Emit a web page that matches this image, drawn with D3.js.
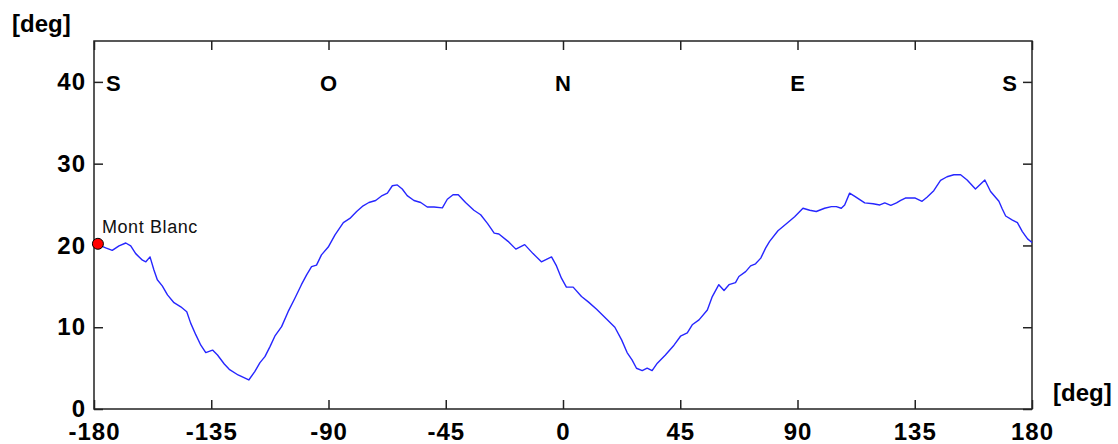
<!DOCTYPE html>
<html>
<head>
<meta charset="utf-8">
<script src="https://cdn.jsdelivr.net/npm/d3@7"></script>
<style>
  html, body { margin: 0; padding: 0; background: #fff; }
  svg { display: block; }
</style>
</head>
<body>
<svg id="chart" width="1118" height="444"></svg>
<script>
// Azimuth (deg) along the horizon profile
const azimuth = [
  -178.5, -175.5, -173, -170.4, -167.8, -165.9, -164, -161.4, -160.1, -158.5,
  -157, -155.7, -153.8, -151.8, -149.3, -146.7, -144.4, -142.9, -140.9, -139,
  -137.1, -134.5, -132.6, -130, -128.1, -124.7, -120.6, -118.3, -116.3, -114.4,
  -112.5, -110.6, -108, -105.5, -102.9, -100.4, -98.4, -96.5, -94.6, -92.7,
  -90.1, -87.5, -84.3, -81.8, -79.2, -76.7, -74.5, -71.9, -69.4, -67.4,
  -65.5, -63.6, -61.7, -59.8, -57.2, -54.6, -52.1, -49.5, -46.3, -44.4,
  -42.2, -40.2, -37.4, -34.2, -31.6, -29.0, -26.4, -24.6, -21.1, -18.1,
  -14.7, -11.5, -8.3, -4.4, -2.5, -0.6, 1.3, 3.9, 7.1, 9.7,
  12.9, 16.7, 19.9, 22.5, 24.6, 26.5, 28.2, 30.4, 32.3, 34.2,
  36.2, 39.3, 42.6, 45.1, 47.7, 49.6, 52.2, 55.4, 57.3, 59.8,
  61.8, 63.7, 66.2, 67.5, 70.1, 72, 73.9, 75.9, 77.8, 79.3,
  82.5, 86.3, 88.9, 92.1, 94.7, 97.2, 100.4, 103, 104.9, 106.8,
  108.1, 110, 112, 115.8, 119, 121.6, 123.5, 125.8, 128, 129.6,
  131.4, 135.2, 137.8, 139.7, 142.3, 144.9, 147.4, 150, 152.6, 155.1,
  158.3, 160.3, 161.9, 164.1, 167.3, 168.6, 169.9, 172.5, 174.4, 176.3,
  178.3, 180
];
// Horizon elevation (deg)
const elevation = [
  20.1, 19.7, 19.4, 19.95, 20.3, 19.95, 19.0, 18.2, 18.0, 18.6,
  17.0, 15.8, 15.05, 13.95, 13.0, 12.5, 11.9, 10.5, 9.06, 7.8,
  6.9, 7.2, 6.6, 5.5, 4.85, 4.16, 3.55, 4.57, 5.67, 6.4,
  7.6, 8.9, 10.07, 11.9, 13.55, 15.2, 16.4, 17.4, 17.6, 18.85,
  19.8, 21.3, 22.8, 23.3, 24.15, 24.85, 25.25, 25.5, 26.1, 26.4,
  27.3, 27.4, 26.9, 26.1, 25.5, 25.25, 24.7, 24.7, 24.6, 25.65,
  26.2, 26.2, 25.25, 24.3, 23.75, 22.7, 21.5, 21.4, 20.5, 19.55,
  20.1, 19.0, 18.0, 18.6, 17.5, 16.0, 14.9, 14.9, 13.75, 13.1,
  12.2, 11.0, 10.0, 8.45, 6.9, 6.0, 4.98, 4.7, 5.0, 4.7,
  5.6, 6.6, 7.8, 8.9, 9.3, 10.3, 10.9, 12.1, 13.75, 15.2,
  14.5, 15.2, 15.45, 16.2, 16.8, 17.5, 17.75, 18.45, 19.7, 20.5,
  21.8, 22.8, 23.5, 24.55, 24.3, 24.15, 24.55, 24.75, 24.75, 24.55,
  24.95, 26.4, 26.0, 25.2, 25.1, 24.95, 25.2, 24.9, 25.2, 25.5,
  25.8, 25.8, 25.4, 25.9, 26.7, 27.95, 28.4, 28.65, 28.65, 28.0,
  26.9, 27.5, 28.0, 26.6, 25.4, 24.45, 23.6, 23.1, 22.8, 21.7,
  20.8, 20.35
];
const xTicks = [-180, -135, -90, -45, 0, 45, 90, 135, 180];
const yTicks = [0, 10, 20, 30, 40];
const compassLabels = ["S", "O", "N", "E", "S"];
const compassAzimuth = [-180, -90, 0, 90, 180];
const peakName = "Mont Blanc";
const peakAzimuth = [-178.5];
const peakElevation = [20.2];
const unitLabel = "[deg]";

const svg = d3.select("#chart");
const plotL = 94, plotR = 1032, plotT = 41, plotB = 409;

const x = d3.scaleLinear().domain([-180, 180]).range([plotL, plotR]);
const y = d3.scaleLinear().domain([0, 45]).range([plotB, plotT]);

const numFont = "'Liberation Sans', Arial, sans-serif";
const plainFormat = d => String(d);  // ASCII hyphen-minus as in the original

// Frame
svg.append("rect")
  .attr("x", plotL).attr("y", plotT)
  .attr("width", plotR - plotL).attr("height", plotB - plotT)
  .attr("fill", "none").attr("stroke", "#222").attr("stroke-width", 1.5);

function styleAxis(g) {
  g.select(".domain").remove();
  g.selectAll(".tick line").attr("stroke", "#222").attr("stroke-width", 1.5);
  g.selectAll(".tick text")
    .attr("fill", "#000")
    .style("font-family", numFont)
    .style("font-weight", "bold")
    .style("font-size", "24px")
    .style("letter-spacing", "1px");
}

// Bottom axis
svg.append("g").attr("transform", `translate(0,${plotB})`)
  .call(d3.axisBottom(x).tickValues(xTicks).tickSize(-9).tickPadding(14).tickFormat(plainFormat))
  .call(styleAxis);
// Top axis (ticks only)
svg.append("g").attr("transform", `translate(0,${plotT})`)
  .call(d3.axisTop(x).tickValues(xTicks).tickSize(-9).tickFormat(""))
  .call(styleAxis);
// Left axis
svg.append("g").attr("transform", `translate(${plotL},0)`)
  .call(d3.axisLeft(y).tickValues(yTicks).tickSize(-9).tickPadding(8).tickFormat(plainFormat))
  .call(styleAxis);
// Right axis (ticks only)
svg.append("g").attr("transform", `translate(${plotR},0)`)
  .call(d3.axisRight(y).tickValues(yTicks).tickSize(-9).tickFormat(""))
  .call(styleAxis);

// Unit labels
svg.append("text").attr("x", 12).attr("y", 32).text(unitLabel)
  .style("font-family", numFont).style("font-weight", "bold").style("font-size", "24px");
svg.append("text").attr("x", 1053).attr("y", 401).text(unitLabel)
  .style("font-family", numFont).style("font-weight", "bold").style("font-size", "24px");

// Compass labels
const compassAnchor = ["start", "middle", "middle", "middle", "end"];
const compassDx = [12, 0, 0, 0, -15];
svg.append("g").selectAll("text")
  .data(compassLabels)
  .join("text")
  .attr("x", (d, i) => x(compassAzimuth[i]) + compassDx[i])
  .attr("y", y(40) + 9)
  .attr("text-anchor", (d, i) => compassAnchor[i])
  .style("font-family", numFont)
  .style("font-weight", "bold")
  .style("font-size", "22px")
  .text(d => d);

// Horizon line
const pts = d3.zip(azimuth, elevation);
svg.append("path")
  .datum(pts)
  .attr("fill", "none")
  .attr("stroke", "#2626ff")
  .attr("stroke-width", 1.4)
  .attr("stroke-linejoin", "round")
  .attr("d", d3.line().x(d => x(d[0])).y(d => y(d[1])));

// Mont Blanc marker
svg.append("g").selectAll("circle")
  .data(d3.zip(peakAzimuth, peakElevation))
  .join("circle")
  .attr("cx", d => x(d[0])).attr("cy", d => y(d[1]))
  .attr("r", 5.5)
  .attr("fill", "#ff0000").attr("stroke", "#000").attr("stroke-width", 1);

svg.append("text")
  .attr("x", x(peakAzimuth[0]) + 4)
  .attr("y", y(peakElevation[0]) - 11)
  .style("font-family", numFont)
  .style("font-size", "18px")
  .style("letter-spacing", "0.6px")
  .attr("fill", "#111")
  .text(peakName);
</script>
</body>
</html>
